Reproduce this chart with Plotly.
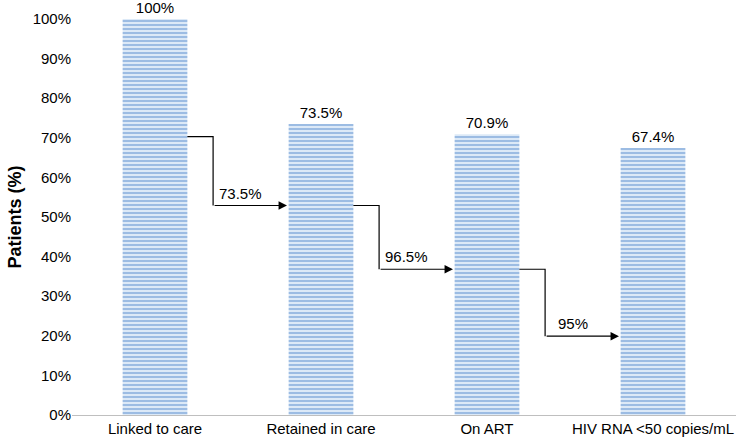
import plotly.graph_objects as go

categories = ["Linked to care", "Retained in care", "On ART", "HIV RNA <50 copies/mL"]
values = [100, 73.5, 70.9, 67.4]
step_rates = [73.5, 96.5, 95]
y_ticks = list(range(0, 101, 10))
y_tick_labels = [f"{t}%" for t in y_ticks]

# arrow layout (style constants)
arrow_levels = [70.3, 52.9, 36.8, 19.9]
bar_w = 0.39
elbow_dx = 0.35

xs = list(range(len(categories)))
FONT = "Liberation Sans, Arial"

fig = go.Figure()
fig.add_trace(go.Bar(
    x=xs, y=values, width=bar_w,
    marker=dict(color="#D6E5F5", line=dict(width=0),
                pattern=dict(shape="-", fgcolor="#5B8FCF", bgcolor="#DCE9F7",
                             size=4, solidity=0.5, fillmode="overlay")),
    text=[f"{v:g}%" for v in values], textposition="outside",
    textfont=dict(size=15, color="#000000", family=FONT),
    cliponaxis=False, hoverinfo="skip",
))

shapes = []
annotations = []
for i, r in enumerate(step_rates):
    y0 = arrow_levels[i]
    y1 = arrow_levels[i + 1]
    xs0 = xs[i] + bar_w / 2
    xe = xs[i] + elbow_dx
    xt = xs[i + 1] - bar_w / 2
    shapes.append(dict(type="path", xref="x", yref="y",
                       path=f"M {xs0},{y0} L {xe},{y0} L {xe},{y1}",
                       line=dict(color="#000000", width=1.2)))
    annotations.append(dict(x=xt - 0.01, y=y1, ax=xe, ay=y1, xref="x", yref="y",
                            axref="x", ayref="y", showarrow=True, arrowhead=2,
                            arrowsize=1.4, arrowwidth=1.2, arrowcolor="#000000", text=""))
    annotations.append(dict(x=(xe + xt) / 2 - 0.06, y=y1, xref="x", yref="y",
                            text=f"{r:g}%", showarrow=False, yanchor="bottom", yshift=2,
                            font=dict(size=15, color="#000000", family=FONT)))

fig.update_layout(
    width=738, height=441,
    margin=dict(l=72, r=2, t=19, b=26, autoexpand=False),
    paper_bgcolor="#FFFFFF", plot_bgcolor="#FFFFFF",
    font=dict(family=FONT, size=15, color="#000000"),
    showlegend=False,
    shapes=shapes, annotations=annotations,
    xaxis=dict(range=[-0.5, 3.5], tickmode="array", tickvals=xs, ticktext=categories,
               showline=True, linecolor="#BFBFBF", linewidth=1, showgrid=False,
               zeroline=False, ticks="", tickfont=dict(size=15), automargin=False),
    yaxis=dict(range=[0, 100], tickmode="array", tickvals=y_ticks, ticktext=y_tick_labels,
               showgrid=False, zeroline=False, showline=False, ticks="",
               tickfont=dict(size=15), automargin=False,
               title=dict(text="<b>Patients (%)</b>", font=dict(size=18), standoff=6)),
)

# remove the default page margin so the figure fills the window exactly
fig.write_html("out.html", config={"displayModeBar": False},
               post_script="document.body.style.margin='0';")
